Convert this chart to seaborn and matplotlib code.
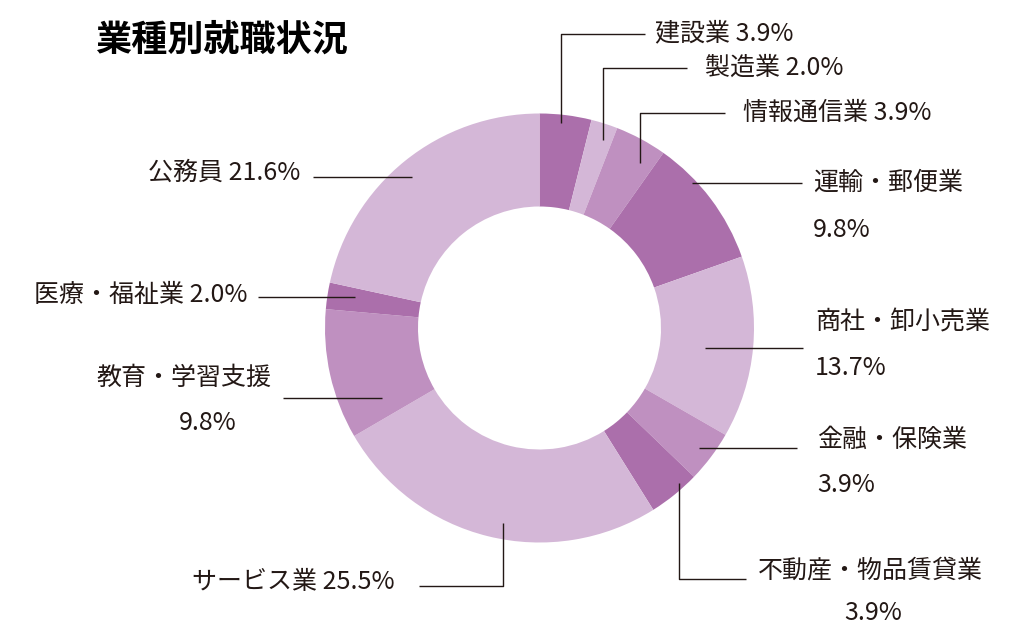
import matplotlib
matplotlib.use("Agg")
import matplotlib.pyplot as plt
import seaborn as sns

sns.set_theme(style="white")
plt.rcParams['font.family'] = ['Noto Sans CJK JP', 'DejaVu Sans']

# data (clockwise from 12 o'clock)
industries = ["建設業", "製造業", "情報通信業", "運輸・郵便業", "商社・卸小売業",
              "金融・保険業", "不動産・物品賃貸業", "サービス業", "教育・学習支援",
              "医療・福祉業", "公務員"]
shares = [3.9, 2.0, 3.9, 9.8, 13.7, 3.9, 3.9, 25.5, 9.8, 2.0, 21.6]
title = "業種別就職状況"

purples = sns.color_palette(["#ab6fab", "#d4b7d7", "#bf90c0"])
colors = [purples[i % 3] for i in range(len(shares))]

W, H = 1028, 636
ink = "#231815"

fig = plt.figure(figsize=(W / 100, H / 100), dpi=100)
ax = fig.add_axes([0, 0, 1, 1])

# pie geometry in pixels (y measured from top, flipped below)
cx, cy, r_out, r_in = 539.5, 328, 214.5, 121.5
ax.pie(shares, colors=colors, startangle=90, counterclock=False,
       radius=r_out, center=(cx, H - cy),
       wedgeprops=dict(width=r_out - r_in, linewidth=0))
ax.set_xlim(0, W)
ax.set_ylim(0, H)
ax.set_aspect("equal")
ax.axis("off")

# leader lines: (pixel path), text anchor, alignment, second line position
layout = [
    ([(561, 123), (561, 34), (645, 34)], (655, 33), "left", None),
    ([(603, 140), (603, 68), (687, 68)], (705, 68), "left", None),
    ([(640, 163), (640, 113), (725, 113)], (743, 113), "left", None),
    ([(692, 183), (802, 183)], (813, 183), "left", (813, 230, "left")),
    ([(705, 348), (803, 348)], (815, 323), "left", (815, 368, "left")),
    ([(699, 448), (797, 448)], (817, 440), "left", (817, 485, "left")),
    ([(679, 483), (679, 579), (746, 579)], (758, 570), "left", (873, 613, "center")),
    ([(503, 523), (503, 586), (419, 586)], (395, 582), "right", None),
    ([(382, 398), (283, 398)], (272, 378), "right", (208, 423, "center")),
    ([(355, 297), (258, 297)], (248, 295), "right", None),
    ([(412, 177), (313, 177)], (300, 173), "right", None),
]

fs = 18
for name, val, (path, (tx, ty), ha, second) in zip(industries, shares, layout):
    xs = [p[0] for p in path]
    ys = [H - p[1] for p in path]
    ax.plot(xs, ys, color=ink, lw=1.0, solid_capstyle="butt")
    pct = f"{val:.1f}%"
    if second is None:
        ax.text(tx, H - ty, f"{name} {pct}", ha=ha, va="center",
                fontsize=fs, color=ink)
    else:
        ax.text(tx, H - ty, name, ha=ha, va="center", fontsize=fs, color=ink)
        sx, sy, sha = second
        ax.text(sx, H - sy, pct, ha=sha, va="center", fontsize=fs, color=ink)

ax.text(95, H - 40, title, ha="left", va="center", fontsize=26,
        fontweight="bold", color="black")

plt.savefig("out.png", dpi=100)
